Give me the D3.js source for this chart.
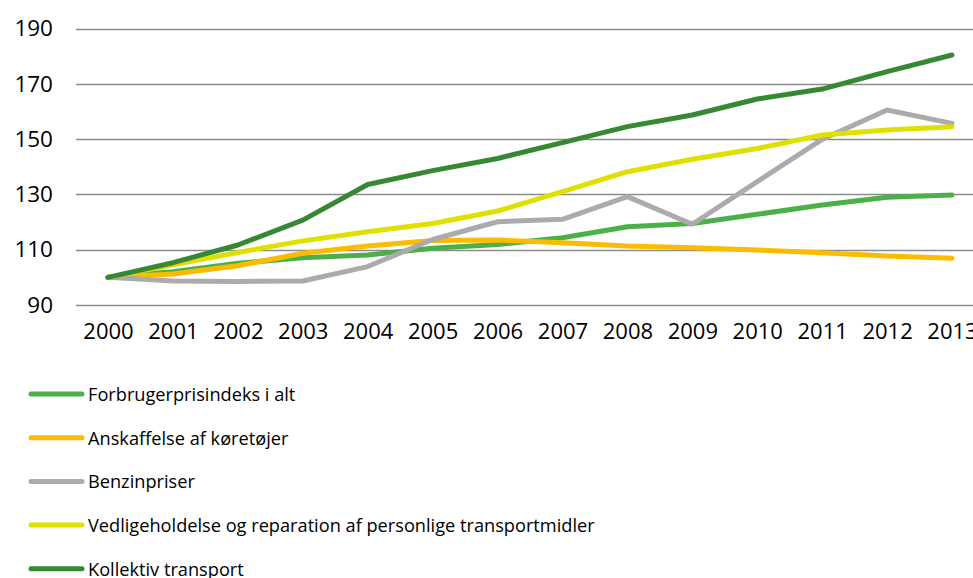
<!DOCTYPE html>
<html>
<head>
<meta charset="utf-8">
<script src="https://cdn.jsdelivr.net/npm/d3@7"></script>
<style>
  body { margin: 0; background: #fff; }
  svg { display: block; font-family: "Open Sans", sans-serif; }
</style>
</head>
<body>
<script>
'use strict'
var years = [2000, 2001, 2002, 2003, 2004, 2005, 2006, 2007, 2008, 2009, 2010, 2011, 2012, 2013];
var yTicks = [90, 110, 130, 150, 170, 190];

var seriesNames = [
  "Forbrugerprisindeks i alt",
  "Anskaffelse af køretøjer",
  "Benzinpriser",
  "Vedligeholdelse og reparation af personlige transportmidler",
  "Kollektiv transport"
];
var seriesColors = ["#4cb04a", "#fbbb00", "#ababab", "#e0e000", "#368834"];

var forbruger = [100, 102.0, 105.1, 107.1, 108.1, 110.5, 111.9, 114.3, 118.3, 119.5, 122.8, 126.2, 129.0, 129.8];
var anskaffelse = [100, 101.2, 104.2, 108.7, 111.3, 113.3, 113.5, 112.5, 111.3, 110.7, 109.9, 108.9, 107.7, 106.9];
var benzin = [100, 98.7, 98.5, 98.7, 103.9, 113.7, 120.1, 121.0, 129.2, 119.2, 134.6, 149.9, 160.5, 155.7];
var vedlige = [100, 104.5, 109.0, 113.2, 116.5, 119.5, 124.0, 131.0, 138.2, 142.7, 146.6, 151.5, 153.3, 154.5];
var kollektiv = [100, 105.3, 111.7, 120.7, 133.6, 138.6, 143.0, 148.7, 154.5, 158.7, 164.5, 168.1, 174.4, 180.4];

var allSeries = [forbruger, anskaffelse, benzin, vedlige, kollektiv];

var width = 973, height = 578;

var svg = d3.select("body")
            .append("svg")
            .attr("width", width)
            .attr("height", height);

var x = d3.scalePoint()
          .domain(years)
          .range([108, 952]);
var y = d3.scaleLinear()
          .domain([90, 190])
          .range([305, 28.5]);

// gridlines
svg.append("g")
   .selectAll("line")
   .data(yTicks)
   .enter()
   .append("line")
   .attr("x1", 76)
   .attr("x2", 1000)
   .attr("y1", function(d){ return Math.round(y(d)) + 0.5; })
   .attr("y2", function(d){ return Math.round(y(d)) + 0.5; })
   .attr("stroke", "#8c8c8c")
   .attr("stroke-width", 1.5);

// y axis labels
var yAxis = d3.axisLeft(y).tickValues(yTicks).tickSize(0).tickPadding(0);
svg.append("g")
   .attr("transform", "translate(53,0)")
   .call(yAxis)
   .call(function(g){ g.select(".domain").remove(); })
   .selectAll("text")
   .attr("font-size", 22.5)
   .attr("font-family", "Open Sans")
   .attr("fill", "#000");

// x axis labels
var xAxis = d3.axisBottom(x).tickSize(0).tickPadding(0);
svg.append("g")
   .attr("transform", "translate(0,323)")
   .call(xAxis)
   .call(function(g){ g.select(".domain").remove(); })
   .selectAll("text")
   .attr("font-size", 22)
   .attr("font-family", "Open Sans")
   .attr("fill", "#000");

// lines
var line = d3.line()
             .x(function(d, i){ return x(years[i]); })
             .y(function(d){ return y(d); });

svg.append("g")
   .selectAll("path")
   .data(allSeries)
   .enter()
   .append("path")
   .attr("d", line)
   .attr("fill", "none")
   .attr("stroke", function(d, i){ return seriesColors[i]; })
   .attr("stroke-width", 5)
   .attr("stroke-linejoin", "round")
   .attr("stroke-linecap", "round");

// legend
var legend = svg.append("g")
                .selectAll("g")
                .data(seriesNames)
                .enter()
                .append("g")
                .attr("transform", function(d, i){ return "translate(0," + (394 + i * 43.7) + ")"; });

legend.append("line")
      .attr("x1", 31)
      .attr("x2", 82)
      .attr("stroke", function(d, i){ return seriesColors[i]; })
      .attr("stroke-width", 5)
      .attr("stroke-linecap", "round");

legend.append("text")
      .attr("x", 88)
      .attr("y", 6.8)
      .attr("font-size", 18.2)
      .attr("font-family", "Open Sans")
      .attr("fill", "#000")
      .text(function(d){ return d; });
</script>
</body>
</html>
